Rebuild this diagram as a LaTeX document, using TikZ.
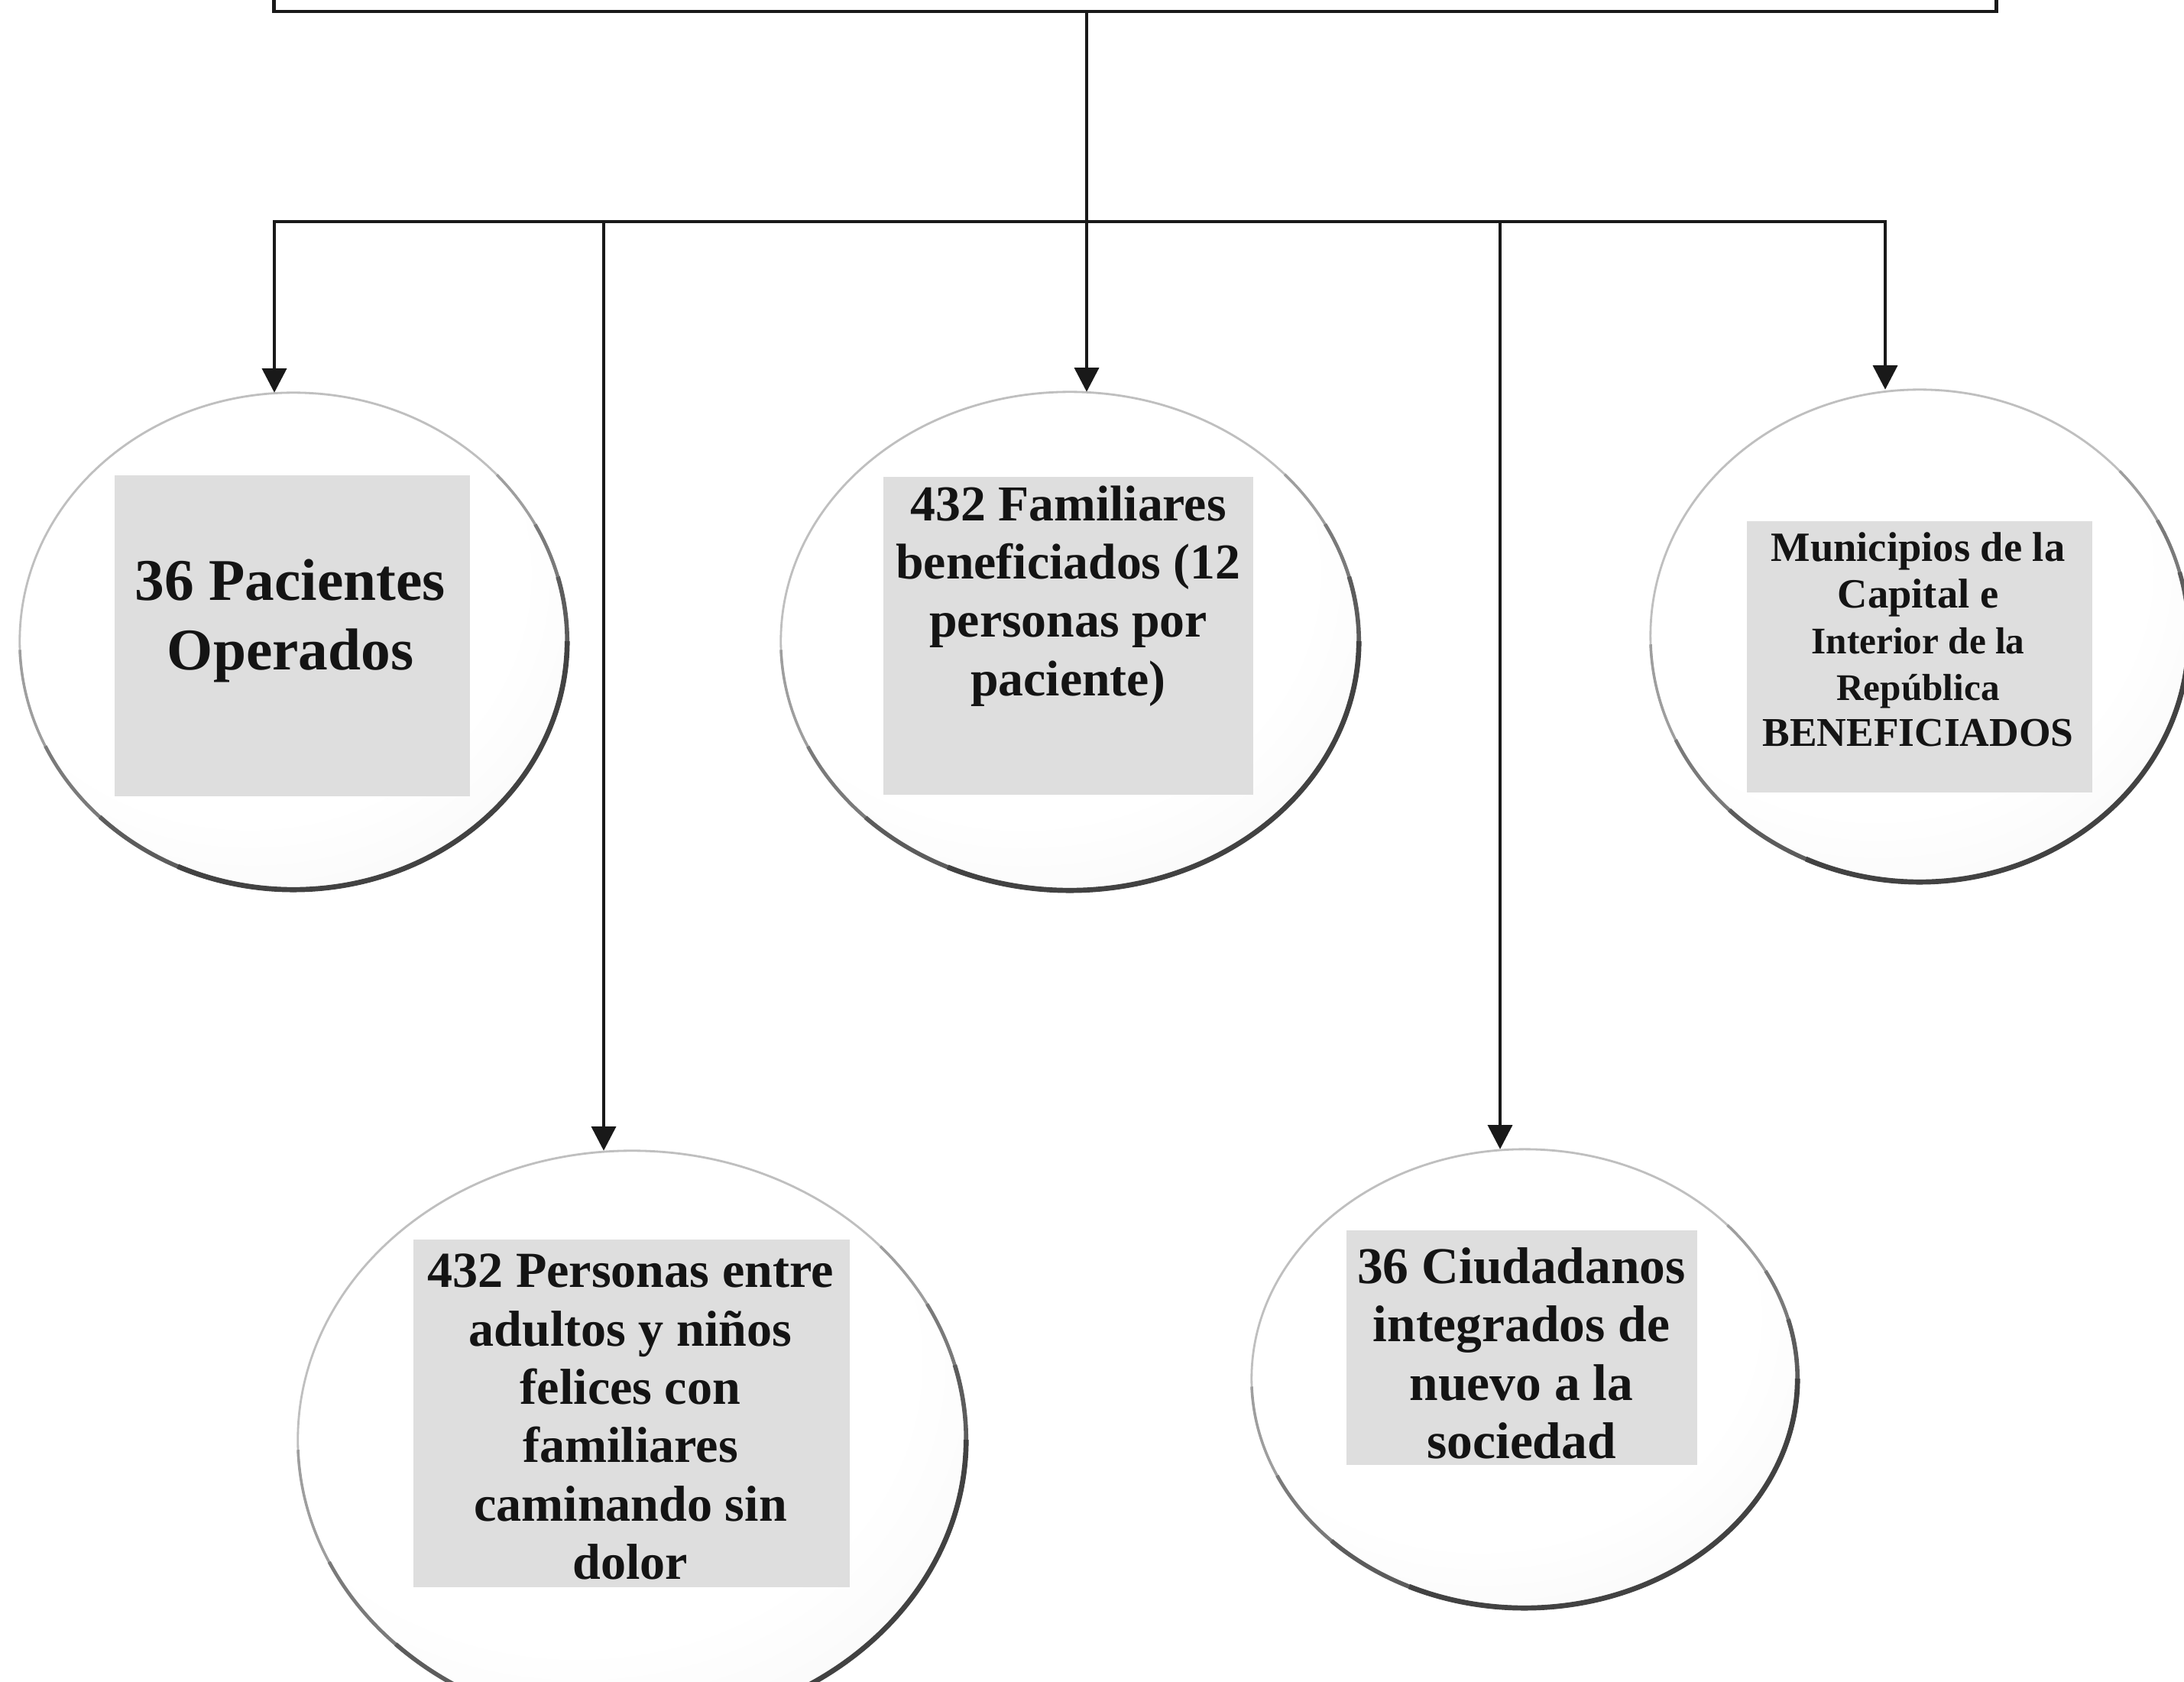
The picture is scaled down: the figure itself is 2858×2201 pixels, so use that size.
\documentclass[tikz,border=0pt]{standalone}
\usepackage{fontspec}
\setmainfont{Liberation Serif}
\usetikzlibrary{arrows.meta,shapes.geometric}
\pgfdeclareradialshading{ellshade}{\pgfpoint{-6bp}{10bp}}{color(0bp)=(white); color(25bp)=(white); color(45bp)=(black!5); color(60bp)=(black!10); color(80bp)=(black!15)}
\tikzset{
  conn/.style={line width=1.3pt, line join=miter, draw=black!90},
  arr/.style={conn, -{Triangle[length=9pt,width=9pt]}},
  bubble/.style={ellipse, inner sep=0pt, outer sep=0pt, shading=ellshade, draw=black!25, line width=0.8pt},
  textbg/.style={fill=black!13, inner sep=0pt, outer sep=0pt},
  lbl/.style={align=center, inner sep=0pt, text=black!92},
  rimA/.style={line width=1.0pt, draw=black!38},
  rimB/.style={line width=1.3pt, draw=black!52},
  rimC/.style={line width=1.6pt, draw=black!64},
  rimD/.style={line width=1.9pt, draw=black!74},
}
\begin{document}
\begin{tikzpicture}[x=0.01cm,y=0.01cm]
\useasboundingbox (0,0) rectangle (2858,-2201);
\clip (0,0) rectangle (2858,-2201);
\fill[white] (0,0) rectangle (2858,-2201);

% header box (cut by top edge)
\node[draw=black!90, line width=1.3pt, minimum width=22.53cm, minimum height=3cm, inner sep=0pt] (head) at (1485.5,135) {};

% bubbles
\node[bubble, minimum width=7.16cm, minimum height=6.50cm] (e1) at (384,-839) {};
\node[bubble, minimum width=7.56cm, minimum height=6.52cm] (e2) at (1400,-839) {};
\node[bubble, minimum width=7.04cm, minimum height=6.44cm] (e3) at (2512,-832) {};
\node[bubble, minimum width=8.74cm, minimum height=7.56cm] (e4) at (827,-1884) {};
\node[bubble, minimum width=7.14cm, minimum height=6.00cm] (e5) at (1995,-1804) {};

\foreach \n/\rx/\ry in {e1/3.58/3.25, e2/3.78/3.26, e3/3.52/3.22, e4/4.37/3.78, e5/3.57/3.00}{
  \draw[rimA] (\n.center) ++(-178:\rx cm and \ry cm) arc[start angle=-178, end angle=42, x radius=\rx cm, y radius=\ry cm];
  \draw[rimB] (\n.center) ++(-155:\rx cm and \ry cm) arc[start angle=-155, end angle=28, x radius=\rx cm, y radius=\ry cm];
  \draw[rimC] (\n.center) ++(-135:\rx cm and \ry cm) arc[start angle=-135, end angle=15, x radius=\rx cm, y radius=\ry cm];
  \draw[rimD] (\n.center) ++(-115:\rx cm and \ry cm) arc[start angle=-115, end angle=0, x radius=\rx cm, y radius=\ry cm];
}

% grey text backgrounds
\node[textbg, minimum width=4.65cm, minimum height=4.20cm] (r1) at (382.5,-832) {};
\node[textbg, minimum width=4.84cm, minimum height=4.16cm] (r2) at (1398,-832) {};
\node[textbg, minimum width=4.52cm, minimum height=3.55cm] (r3) at (2512,-859.5) {};
\node[textbg, minimum width=5.71cm, minimum height=4.55cm] (r4) at (826.5,-1849.5) {};
\node[textbg, minimum width=4.59cm, minimum height=3.07cm] (r5) at (1991.5,-1763.5) {};

% texts
\node[lbl, font={\bfseries\fontsize{22pt}{25.9pt}\selectfont}] (t1) at (380,-812)
  {36 Pacientes\\Operados};
\node[lbl, font={\bfseries\fontsize{18.7pt}{21.7pt}\selectfont}] (t2) at (1398,-780)
  {432 Familiares\\beneficiados (12\\personas por\\paciente)};
\node[lbl, font={\bfseries\fontsize{15.5pt}{17.2pt}\selectfont}] (t3) at (2510,-837)
  {Municipios de la\\Capital e\\{\fontsize{14pt}{17.2pt}\selectfont Interior de la}\\{\fontsize{14pt}{17.2pt}\selectfont República}\\{\fontsize{15.2pt}{17.2pt}\selectfont BENEFICIADOS}};
\node[lbl, font={\bfseries\fontsize{18.8pt}{21.7pt}\selectfont}] (t4) at (825,-1854)
  {432 Personas entre\\adultos y niños\\felices con\\familiares\\caminando sin\\dolor};
\node[lbl, font={\bfseries\fontsize{19.2pt}{21.7pt}\selectfont}] (t5) at (1991,-1771)
  {36 Ciudadanos\\integrados de\\nuevo a la\\sociedad};

% connectors
\coordinate (j) at (1422,-290);
\coordinate (hL) at (359,-290);
\coordinate (hR) at (2467,-290);
\coordinate (a4) at (790,-290);
\coordinate (a5) at (1963,-290);
\draw[conn] (head.south -| j) -- (j);
\draw[arr] (j) -- (hL) -- (e1.north -| hL);
\draw[arr] (j) -- (hR) -- (e3.north -| hR);
\draw[arr] (j) -- (e2.north -| j);
\draw[arr] (a4) -- (e4.north -| a4);
\draw[arr] (a5) -- (e5.north -| a5);
\end{tikzpicture}
\end{document}
